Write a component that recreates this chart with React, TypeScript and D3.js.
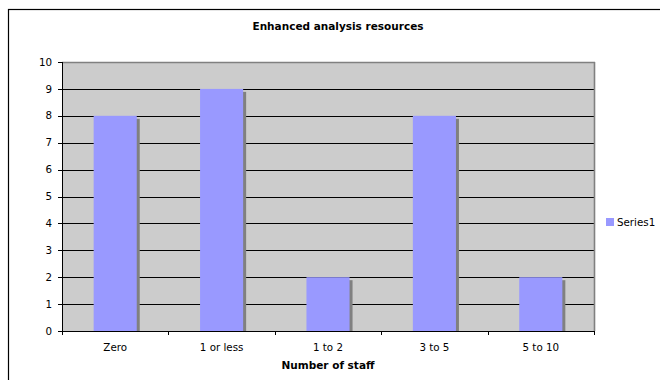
import React from "react";
import * as d3 from "d3";

const categories = ["Zero", "1 or less", "1 to 2", "3 to 5", "5 to 10"];
const series1 = [8, 9, 2, 8, 2];
const yTicks = [0, 1, 2, 3, 4, 5, 6, 7, 8, 9, 10];
const chartTitle = "Enhanced analysis resources";
const xTitle = "Number of staff";
const seriesName = "Series1";

const W = 660;
const H = 380;
const plot = { left: 62, right: 594, top: 62, bottom: 331 };
const FONT = "'DejaVu Sans', Verdana, sans-serif";

export default function App() {
  const x = d3
    .scaleBand<string>()
    .domain(categories)
    .range([plot.left, plot.right])
    .padding(0);
  const y = d3.scaleLinear().domain([0, 10]).range([plot.bottom, plot.top]);
  const bw = x.bandwidth() * 0.405;
  const shadow = 3;
  const boundaries = d3.range(categories.length + 1).map((i) => plot.left + i * x.bandwidth());

  return (
    <svg
      width={W}
      height={H}
      style={{ position: "absolute", left: 0, top: 0, display: "block" }}
      fontFamily={FONT}
    >
      <rect x={0} y={0} width={W} height={H} fill="#fff" />
      {/* chart frame */}
      <rect x={8.5} y={9.5} width={W} height={H} fill="none" stroke="#000" strokeWidth={1.2} />
      <text x={338} y={30} textAnchor="middle" fontSize={10.5} fontWeight="bold" fill="#000">
        {chartTitle}
      </text>

      <defs>
        <clipPath id="plotClip">
          <rect x={plot.left} y={plot.top - 5} width={plot.right - plot.left + 10} height={plot.bottom - plot.top + 5} />
        </clipPath>
      </defs>

      {/* plot area */}
      <rect
        x={plot.left}
        y={plot.top}
        width={plot.right - plot.left}
        height={plot.bottom - plot.top}
        fill="#cccccc"
      />
      {yTicks
        .filter((t) => t > 0 && t < 10)
        .map((t) => (
          <line
            key={`g${t}`}
            x1={plot.left}
            x2={plot.right}
            y1={Math.round(y(t)) + 0.5}
            y2={Math.round(y(t)) + 0.5}
            stroke="#000"
            strokeWidth={1}
          />
        ))}
      <line x1={plot.left} x2={plot.right + 1} y1={plot.top + 0.5} y2={plot.top + 0.5} stroke="#808080" strokeWidth={1.6} />
      <line x1={plot.right + 0.5} x2={plot.right + 0.5} y1={plot.top} y2={plot.bottom} stroke="#808080" strokeWidth={1.6} />

      {/* bars with drop shadow */}
      <g clipPath="url(#plotClip)">
        {series1.map((v, i) => {
          const cx = (x(categories[i]) as number) + x.bandwidth() / 2;
          const x0 = cx - bw / 2;
          return (
            <g key={categories[i]}>
              <rect
                x={x0 + shadow}
                y={y(v) + shadow}
                width={bw}
                height={plot.bottom - y(v)}
                fill="#808080"
              />
              <rect x={x0} y={y(v)} width={bw} height={plot.bottom - y(v)} fill="#9999ff" />
            </g>
          );
        })}
      </g>

      {/* axes */}
      <line x1={plot.left + 0.5} x2={plot.left + 0.5} y1={plot.top} y2={plot.bottom + 1} stroke="#000" />
      <line x1={plot.left} x2={plot.right + 1} y1={plot.bottom + 0.5} y2={plot.bottom + 0.5} stroke="#000" />
      {yTicks.map((t) => (
        <g key={`y${t}`}>
          <line
            x1={plot.left - 4}
            x2={plot.left}
            y1={Math.round(y(t)) + 0.5}
            y2={Math.round(y(t)) + 0.5}
            stroke="#000"
          />
          <text x={52} y={y(t) + 3.6} textAnchor="end" fontSize={10.3} fill="#000">
            {t}
          </text>
        </g>
      ))}
      {boundaries.map((b, i) => (
        <line
          key={`xt${i}`}
          x1={Math.round(b) + 0.5}
          x2={Math.round(b) + 0.5}
          y1={plot.bottom}
          y2={plot.bottom + 4}
          stroke="#000"
        />
      ))}
      {categories.map((c) => (
        <text
          key={`xl${c}`}
          x={(x(c) as number) + x.bandwidth() / 2}
          y={351}
          textAnchor="middle"
          fontSize={10.3}
          fill="#000"
        >
          {c}
        </text>
      ))}
      <text x={328} y={369} textAnchor="middle" fontSize={10.5} fontWeight="bold" fill="#000">
        {xTitle}
      </text>

      {/* legend */}
      <rect x={606} y={218} width={8} height={8} fill="#9999ff" />
      <text x={617} y={226} fontSize={10.3} fill="#000">
        {seriesName}
      </text>
    </svg>
  );
}
